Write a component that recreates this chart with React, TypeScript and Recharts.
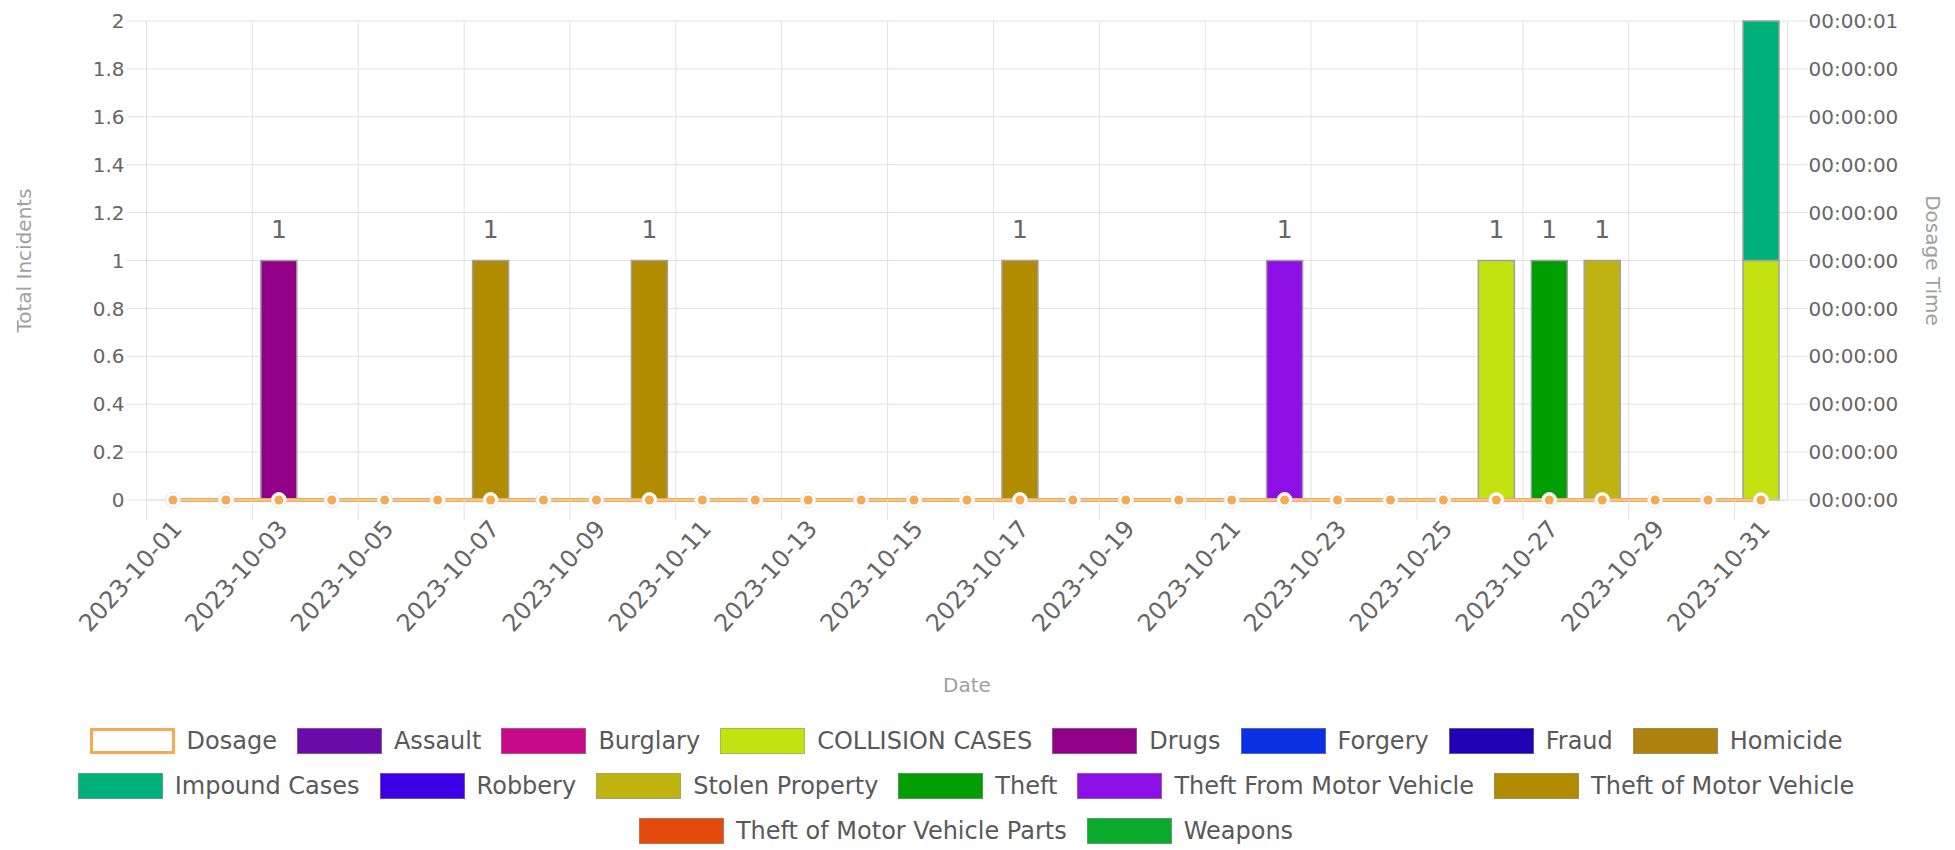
import {
  Bar,
  CartesianGrid,
  ComposedChart,
  Label,
  LabelList,
  Line,
  XAxis,
  YAxis,
} from 'recharts'

const dates = [
  '2023-10-01', '2023-10-02', '2023-10-03', '2023-10-04', '2023-10-05',
  '2023-10-06', '2023-10-07', '2023-10-08', '2023-10-09', '2023-10-10',
  '2023-10-11', '2023-10-12', '2023-10-13', '2023-10-14', '2023-10-15',
  '2023-10-16', '2023-10-17', '2023-10-18', '2023-10-19', '2023-10-20',
  '2023-10-21', '2023-10-22', '2023-10-23', '2023-10-24', '2023-10-25',
  '2023-10-26', '2023-10-27', '2023-10-28', '2023-10-29', '2023-10-30',
  '2023-10-31',
]

// dosage time in seconds, one per day
const dosage = [
  0, 0, 0, 0, 0, 0, 0, 0, 0, 0, 0, 0, 0, 0, 0, 0,
  0, 0, 0, 0, 0, 0, 0, 0, 0, 0, 0, 0, 0, 0, 0,
]

// incidents per day; empty lists had nothing this month
const assault: number[] = []
const burglary: number[] = []
const collisionCases = [
  0, 0, 0, 0, 0, 0, 0, 0, 0, 0, 0, 0, 0, 0, 0, 0,
  0, 0, 0, 0, 0, 0, 0, 0, 0, 1, 0, 0, 0, 0, 1,
]
const drugs = [
  0, 0, 1, 0, 0, 0, 0, 0, 0, 0, 0, 0, 0, 0, 0, 0,
  0, 0, 0, 0, 0, 0, 0, 0, 0, 0, 0, 0, 0, 0, 0,
]
const forgery: number[] = []
const fraud: number[] = []
const homicide: number[] = []
const impoundCases = [
  0, 0, 0, 0, 0, 0, 0, 0, 0, 0, 0, 0, 0, 0, 0, 0,
  0, 0, 0, 0, 0, 0, 0, 0, 0, 0, 0, 0, 0, 0, 1,
]
const robbery: number[] = []
const stolenProperty = [
  0, 0, 0, 0, 0, 0, 0, 0, 0, 0, 0, 0, 0, 0, 0, 0,
  0, 0, 0, 0, 0, 0, 0, 0, 0, 0, 0, 1, 0, 0, 0,
]
const theft = [
  0, 0, 0, 0, 0, 0, 0, 0, 0, 0, 0, 0, 0, 0, 0, 0,
  0, 0, 0, 0, 0, 0, 0, 0, 0, 0, 1, 0, 0, 0, 0,
]
const theftFromMotorVehicle = [
  0, 0, 0, 0, 0, 0, 0, 0, 0, 0, 0, 0, 0, 0, 0, 0,
  0, 0, 0, 0, 0, 1, 0, 0, 0, 0, 0, 0, 0, 0, 0,
]
const theftOfMotorVehicle = [
  0, 0, 0, 0, 0, 0, 1, 0, 0, 1, 0, 0, 0, 0, 0, 0,
  1, 0, 0, 0, 0, 0, 0, 0, 0, 0, 0, 0, 0, 0, 0,
]
const theftOfMotorVehicleParts: number[] = []
const weapons: number[] = []

const leftTicks = [0, 0.2, 0.4, 0.6, 0.8, 1, 1.2, 1.4, 1.6, 1.8, 2]
const rightTicks = [0, 0.1, 0.2, 0.3, 0.4, 0.5, 0.6, 0.7, 0.8, 0.9, 1]

const series = [
  { key: 'assault', name: 'Assault', color: '#6a0aab', values: assault },
  { key: 'burglary', name: 'Burglary', color: '#c80a8a', values: burglary },
  { key: 'collision', name: 'COLLISION CASES', color: '#c2e30f', values: collisionCases },
  { key: 'drugs', name: 'Drugs', color: '#930088', values: drugs },
  { key: 'forgery', name: 'Forgery', color: '#0a30e6', values: forgery },
  { key: 'fraud', name: 'Fraud', color: '#2200b4', values: fraud },
  { key: 'homicide', name: 'Homicide', color: '#af820f', values: homicide },
  { key: 'impound', name: 'Impound Cases', color: '#00b07a', values: impoundCases },
  { key: 'robbery', name: 'Robbery', color: '#3d00e6', values: robbery },
  { key: 'stolen', name: 'Stolen Property', color: '#bfb312', values: stolenProperty },
  { key: 'theft', name: 'Theft', color: '#009e00', values: theft },
  { key: 'theftFrom', name: 'Theft From Motor Vehicle', color: '#8c10e6', values: theftFromMotorVehicle },
  { key: 'theftOf', name: 'Theft of Motor Vehicle', color: '#b18b00', values: theftOfMotorVehicle },
  { key: 'theftParts', name: 'Theft of Motor Vehicle Parts', color: '#e34a0c', values: theftOfMotorVehicleParts },
  { key: 'weapons', name: 'Weapons', color: '#0aab2d', values: weapons },
]

const data = dates.map((date, i) => {
  const row: Record<string, number | string> = { date, dosage: dosage[i] }
  let total = 0
  series.forEach((s) => {
    const v = s.values[i] ?? 0
    row[s.key] = v
    total += v
  })
  row.total = total
  return row
})

const CHART_W = 1940
const CHART_H = 710
const LEFT_W = 138
const RIGHT_W = 160
const PLOT_W = CHART_W - LEFT_W - RIGHT_W - 1
const DOSAGE_COLOR = '#f6ab52'
const GRID = '#e2e2e2'
const TICK = '#666'
const TITLE = '#a0a0a0'

const fmtSeconds = (v: number) => {
  const s = Math.floor(v + 1e-9)
  const pad = (n: number) => String(n).padStart(2, '0')
  return `${pad(Math.floor(s / 3600))}:${pad(Math.floor(s / 60) % 60)}:${pad(s % 60)}`
}

function DateTick(props: any) {
  const { x, y, payload } = props
  const half = PLOT_W / dates.length / 2
  return (
    <g>
      <line x1={x - half} x2={x - half} y1={y - 24} y2={y - 4} stroke={GRID} />
      <text
        x={x + 4}
        y={y}
        dy="0.35em"
        transform={`rotate(-48 ${x + 4} ${y})`}
        textAnchor="end"
        fontSize={24}
        fill={TICK}
      >
        {payload.value}
      </text>
    </g>
  )
}

function TotalLabel(props: any) {
  const vb = props.viewBox || {}
  const x = props.x ?? vb.x
  const y = props.y ?? vb.y
  // totals above the plot top fall outside the canvas, as in the source chart
  if (!props.value || y - 23 < 20) return null
  return (
    <text x={x} y={y - 23} textAnchor="middle" fontSize={25} fill={TICK}>
      {props.value}
    </text>
  )
}

function DosageDot(props: any) {
  const { cx, cy } = props
  if (cx == null || cy == null) return null
  return (
    <g>
      <circle cx={cx} cy={cy} r={7.5} fill="#fff" stroke="#e8e8e8" strokeWidth={1} />
      <circle cx={cx} cy={cy} r={4.5} fill={DOSAGE_COLOR} />
    </g>
  )
}

function Legend() {
  const items = [
    { name: 'Dosage', color: '#fff', border: `3px solid ${DOSAGE_COLOR}` },
    ...series.map((s) => ({ name: s.name, color: s.color, border: '1.5px solid rgba(150,150,150,0.55)' })),
  ]
  return (
    <div
      style={{
        width: 1880,
        marginLeft: 18,
        display: 'flex',
        flexWrap: 'wrap',
        justifyContent: 'center',
      }}
    >
      {items.map((it) => (
        <div
          key={it.name}
          style={{ display: 'flex', alignItems: 'center', height: 45, margin: '0 10px' }}
        >
          <span
            style={{
              display: 'inline-block',
              width: 85,
              height: 26,
              background: it.color,
              border: it.border,
              boxSizing: 'border-box',
              marginRight: 12,
            }}
          />
          <span style={{ fontSize: 24, color: '#595959', whiteSpace: 'nowrap' }}>{it.name}</span>
        </div>
      ))}
    </div>
  )
}

export default function App() {
  return (
    <div style={{ fontFamily: '"DejaVu Sans", sans-serif' }}>
      <ComposedChart
        width={CHART_W}
        height={CHART_H}
        data={data}
        margin={{ top: 13, right: 0.5, bottom: 0, left: 0.5 }}
        barCategoryGap="16%"
      >
        <CartesianGrid
          yAxisId="left"
          stroke={GRID}
          verticalCoordinatesGenerator={({ offset }: any) =>
            dates
              .map((_, i) => offset.left + (i * offset.width) / dates.length)
              .filter((_, i) => i % 2 === 0)
          }
        />
        <XAxis
          dataKey="date"
          height={218}
          interval={1}
          tickSize={20}
          tickMargin={4}
          tickLine={false}
          axisLine={{ stroke: GRID }}
          tick={<DateTick />}
        >
          <Label
            content={({ viewBox }: any) => (
              <text
                x={viewBox.x + viewBox.width / 2}
                y={viewBox.y + viewBox.height - 26}
                textAnchor="middle"
                fontSize={20}
                fill={TITLE}
              >
                Date
              </text>
            )}
          />
        </XAxis>
        <YAxis
          yAxisId="left"
          width={LEFT_W}
          domain={[0, 2]}
          ticks={leftTicks}
          interval={0}
          tickSize={20}
          tickMargin={2}
          tick={{ fill: TICK, fontSize: 20 }}
          tickLine={{ stroke: GRID }}
          axisLine={{ stroke: GRID }}
        >
          <Label
            content={({ viewBox }: any) => {
              const cx = viewBox.x + 15
              const cy = viewBox.y + viewBox.height / 2
              return (
                <text
                  x={cx}
                  y={cy}
                  dy="0.35em"
                  transform={`rotate(-90 ${cx} ${cy})`}
                  textAnchor="middle"
                  fontSize={20}
                  fill={TITLE}
                >
                  Total Incidents
                </text>
              )
            }}
          />
        </YAxis>
        <YAxis
          yAxisId="right"
          orientation="right"
          width={RIGHT_W}
          domain={[0, 1]}
          ticks={rightTicks}
          interval={0}
          tickSize={20}
          tickMargin={1}
          tickFormatter={fmtSeconds}
          tick={{ fill: TICK, fontSize: 20 }}
          tickLine={{ stroke: GRID }}
          axisLine={{ stroke: GRID }}
        >
          <Label
            content={({ viewBox }: any) => {
              const cx = viewBox.x + 145
              const cy = viewBox.y + viewBox.height / 2
              return (
                <text
                  x={cx}
                  y={cy}
                  dy="0.35em"
                  transform={`rotate(90 ${cx} ${cy})`}
                  textAnchor="middle"
                  fontSize={20}
                  fill={TITLE}
                >
                  Dosage Time
                </text>
              )
            }}
          />
        </YAxis>
        {series.map((s) => (
          <Bar
            key={s.key}
            dataKey={s.key}
            name={s.name}
            yAxisId="left"
            stackId="incidents"
            fill={s.color}
            stroke="#a0a0a0"
            strokeWidth={1.5}
            isAnimationActive={false}
          />
        ))}
        <Line
          dataKey="total"
          yAxisId="left"
          stroke="none"
          dot={false}
          activeDot={false}
          legendType="none"
          isAnimationActive={false}
        >
          <LabelList dataKey="total" content={<TotalLabel />} />
        </Line>
        <Line
          dataKey="dosage"
          name="Dosage"
          yAxisId="right"
          type="linear"
          stroke={DOSAGE_COLOR}
          strokeWidth={4}
          dot={<DosageDot />}
          activeDot={false}
          isAnimationActive={false}
        />
      </ComposedChart>
      <Legend />
    </div>
  )
}
